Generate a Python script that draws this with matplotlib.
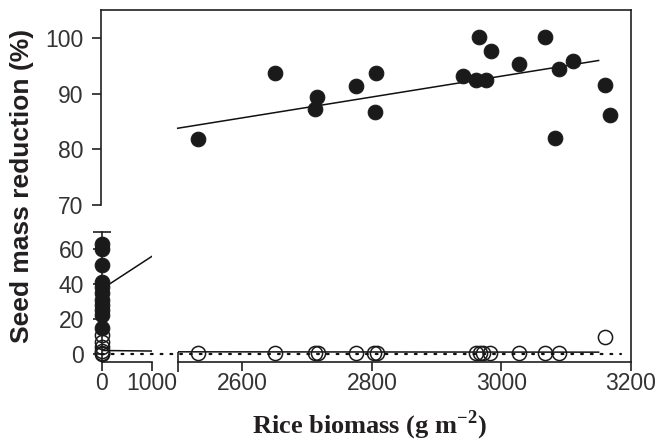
import matplotlib
matplotlib.use("Agg")
import matplotlib.pyplot as plt
import matplotlib.transforms as mtransforms
from matplotlib.lines import Line2D
from matplotlib.ticker import FixedLocator

# data
# control plots (no rice biomass, x = 0)
ctrl_filled = [63, 60, 51, 41, 38, 35, 31, 28, 25, 22, 15]
ctrl_open = [11, 7, 4, 2, 0.5, 0]

# rice plots, filled circles
rice_x = [2532, 2650, 2715, 2712, 2775, 2806, 2805, 2940, 2961, 2965,
          2976, 2984, 3027, 3067, 3082, 3089, 3111, 3160, 3167]
rice_filled = [81.8, 93.7, 89.3, 87.2, 91.3, 93.7, 86.7, 93.1, 92.5, 100.1,
               92.4, 97.7, 95.3, 100.1, 82.1, 94.4, 95.8, 91.6, 86.1]

# rice plots, open circles
rice_open_x = [2532, 2650, 2712, 2716, 2775, 2803, 2807, 2961, 2967, 2972,
               2982, 3027, 3067, 3089, 3160]
rice_open = [0.3, 0.3, 0.3, 0.3, 0.3, 0.3, 0.3, 0.3, 0.3, 0.3,
             0.3, 0.3, 0.3, 0.3, 9.6]

# regression lines
fit_filled = (37.0, 0.01871)   # intercept, slope
fit_open = (2.0, -0.0003)
fit_x_left = [0, 1000]
fit_x_right = [2500, 3150]
dot_x = [0, 3185]

W, H = 660, 441
fg = '#231f20'
plt.rcParams['font.family'] = ['Liberation Sans', 'DejaVu Sans']
plt.rcParams['mathtext.fontset'] = 'custom'
plt.rcParams['mathtext.rm'] = 'Liberation Serif:bold'
plt.rcParams['mathtext.bf'] = 'Liberation Serif:bold'

fig = plt.figure(figsize=(W / 100, H / 100), dpi=100)


def box(x0, x1, ytop, ybot):
    return [x0 / W, 1 - ybot / H, (x1 - x0) / W, (ybot - ytop) / H]


ax_up = fig.add_axes(box(101, 631, 10, 205))
ax_ll = fig.add_axes(box(101.5, 151.7, 232, 362))
ax_lr = fig.add_axes(box(177.7, 631, 205, 362))

ax_up.set_xlim(2381.6, 3200)
ax_up.set_ylim(70, 105)
ax_ll.set_xlim(0, 1000)
ax_ll.set_ylim(-4.57, 69.7)
ax_lr.set_xlim(2500, 3200)
ax_lr.set_ylim(-4.57, 85.14)

for ax in (ax_up, ax_ll, ax_lr):
    ax.patch.set_visible(False)
    for s in ax.spines.values():
        s.set_linewidth(1.2)
        s.set_color(fg)
    ax.tick_params(which='both', width=1.2, color=fg, labelcolor='#333333',
                   labelsize=16.5, length=6.5)
    ax.tick_params(axis='y', pad=6)
    ax.tick_params(axis='x', pad=1)

ax_up.spines['bottom'].set_visible(False)
ax_up.spines['right'].set_visible(False)
ax_up.set_xticks([])
ax_up.set_yticks([70, 80, 90, 100])
ax_up.yaxis.set_minor_locator(FixedLocator([70]))
ax_up.tick_params(axis='y', which='minor', direction='in', length=7)

ax_ll.spines['top'].set_visible(False)
ax_ll.spines['right'].set_visible(False)
ax_ll.set_xticks([0, 1000])
ax_ll.set_yticks([0, 20, 40, 60])
ax_ll.xaxis.set_minor_locator(FixedLocator([1000]))
ax_ll.yaxis.set_minor_locator(FixedLocator([69.7]))
ax_ll.tick_params(axis='x', which='minor', direction='in', length=7)
ax_ll.tick_params(axis='y', which='minor', direction='inout', length=13)

ax_lr.spines['top'].set_visible(False)
ax_lr.spines['left'].set_visible(False)
ax_lr.spines['right'].set_visible(False)
ax_lr.set_yticks([])
ax_lr.set_xticks([2600, 2800, 3000, 3200])
ax_lr.xaxis.set_minor_locator(FixedLocator([2500]))
ax_lr.tick_params(axis='x', which='minor', direction='inout', length=14)

# one continuous right-hand frame line over both right panels
fig.canvas.draw()
inv = fig.transFigure.inverted()
rx, ry_top = inv.transform(ax_up.transAxes.transform((1, 1)))
_, ry_bot = inv.transform(ax_lr.transAxes.transform((1, 0)))
fig.add_artist(Line2D([rx, rx], [ry_bot, ry_top], transform=fig.transFigure,
                      color=fg, lw=1.2, solid_capstyle='projecting'))

mk_f = dict(marker='o', ls='none', ms=10.5, mfc='#1a1a1a', mec='#1a1a1a',
            mew=0.8, clip_on=False, zorder=3)
mk_o = dict(marker='o', ls='none', ms=10.2, mfc='none', mec='#1a1a1a',
            mew=1.1, clip_on=False, zorder=3)

ax_ll.plot([0] * len(ctrl_filled), ctrl_filled, **mk_f)
ax_ll.plot([0] * len(ctrl_open), ctrl_open, **mk_o)
ax_up.plot(rice_x, rice_filled, **mk_f)
ax_lr.plot(rice_open_x, rice_open, **mk_o)

a, b = fit_filled
ax_ll.plot(fit_x_left, [a + b * x for x in fit_x_left], color='#111111', lw=1.1, zorder=2)
ax_up.plot(fit_x_right, [a + b * x for x in fit_x_right], color='#111111', lw=1.1, zorder=2)
a, b = fit_open
ax_ll.plot(fit_x_left, [a + b * x for x in fit_x_left], color='#111111', lw=1.1, zorder=2)
ax_lr.plot(fit_x_right, [a + b * x for x in fit_x_right], color='#111111', lw=1.1, zorder=2)

# dotted zero line running across the x-axis break
x0 = ax_ll.transData.transform((dot_x[0], 0))[0]
x1 = ax_lr.transData.transform((dot_x[1], 0))[0]
fx0 = inv.transform((x0, 0))[0]
fx1 = inv.transform((x1, 0))[0]
trans = mtransforms.blended_transform_factory(fig.transFigure, ax_ll.transData)
fig.add_artist(Line2D([fx0, fx1], [0, 0], transform=trans, color='#111111',
                      lw=1.6, linestyle=(0, (0.8, 3.6)), dash_capstyle='round'))

fig.text(22 / W, 1 - 186 / H, 'Seed mass reduction (%)', rotation=90,
         ha='center', va='center', fontsize=19, fontweight='bold', color=fg)
fig.text(369 / W, 1 - 425 / H, r'Rice biomass (g m$^{-2}$)', ha='center',
         va='center', fontsize=19, fontweight='bold', family='Liberation Serif',
         color=fg)

fig.savefig('out.png', dpi=100)
